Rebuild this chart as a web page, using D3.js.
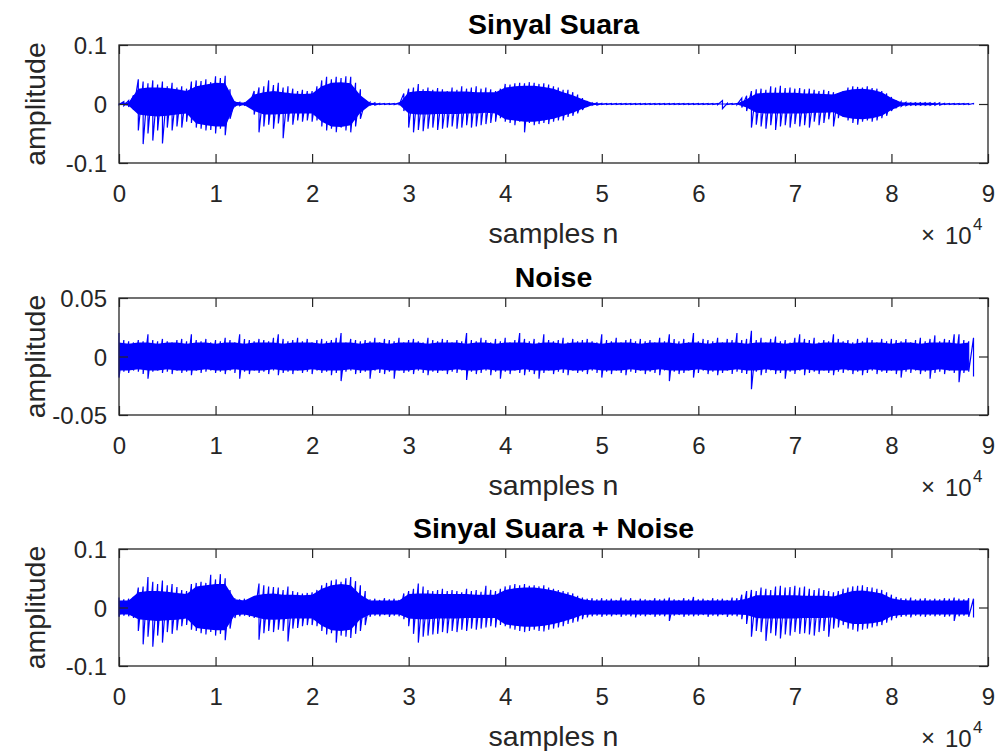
<!DOCTYPE html>
<html><head><meta charset="utf-8">
<script src="https://cdn.jsdelivr.net/npm/d3@7"></script>
<style>
body{margin:0;background:#fff}
svg{display:block}
text{font-family:"Liberation Sans",Arial,Helvetica,sans-serif}
</style>
</head><body>
<svg id="chart" width="996" height="751"></svg>
<script>
// ---------------- DATA (amplitudes in thousandths) ----------------
const xTicks = [0,10000,20000,30000,40000,50000,60000,70000,80000,90000];
const xTickLabels = ["0","1","2","3","4","5","6","7","8","9"];
const titles = ["Sinyal Suara","Noise","Sinyal Suara + Noise"];
const yLabel = "amplitude";
const xLabel = "samples n";
const yTicks1 = [-0.1,0,0.1];
const yTickLabels1 = ["-0.1","0","0.1"];
const yTicks2 = [-0.05,0,0.05];
const yTickLabels2 = ["-0.05","0","0.05"];
const PEAK_STEP = 500;   // samples between peak readings
const BODY_STEP = 1000;  // samples between body-envelope readings

// Sinyal Suara: peak envelope every 500 samples
const speechPeakHi = [
 1,4,6,15,42,38,35,40,33,38,
 30,36,28,30,26,38,40,39,42,37,
 47,44,48,25,5,3,2,2,22,28,
 30,40,32,36,28,30,26,22,24,22,
 22,30,40,46,42,46,44,47,46,36,
 25,5,3,2,1,1,1,1,2,18,
 26,28,34,25,28,24,27,25,22,28,
 24,30,26,28,30,26,28,25,22,26,
 34,33,35,36,35,37,36,34,35,33,
 30,28,24,24,20,16,10,5,2,2,
 1,1,1,1,1,1,1,1,1,1,
 1,1,1,1,1,1,1,1,1,1,
 1,1,1,1,1,6,1,1,1,10,
 14,22,25,26,24,30,28,31,27,28,
 26,27,25,26,24,22,24,22,20,18,
 22,28,30,29,28,30,27,26,22,18,
 12,6,4,3,2,2,2,2,2,2,
 2,1,1,1,1,1,1,1];
const speechPeakLo = [
 -1,-3,-5,-10,-45,-68,-50,-62,-45,-67,
 -40,-45,-38,-40,-30,-32,-40,-42,-45,-44,
 -50,-42,-53,-25,-4,-3,-2,-2,-18,-48,
 -38,-35,-42,-33,-58,-30,-35,-28,-30,-28,
 -30,-28,-38,-45,-42,-48,-40,-45,-48,-38,
 -25,-5,-2,-2,-1,-1,-1,-1,-2,-12,
 -40,-48,-44,-46,-42,-40,-44,-42,-40,-38,
 -42,-40,-36,-40,-38,-36,-34,-32,-30,-24,
 -30,-32,-36,-30,-48,-32,-36,-34,-32,-34,
 -30,-28,-28,-22,-20,-16,-10,-4,-2,-2,
 -1,-1,-1,-1,-1,-1,-1,-1,-1,-1,
 -1,-1,-1,-1,-1,-1,-1,-1,-1,-1,
 -1,-1,-1,-1,-1,-8,-1,-1,-1,-6,
 -12,-40,-35,-38,-42,-36,-44,-38,-36,-40,
 -34,-38,-36,-40,-30,-36,-32,-26,-38,-24,
 -22,-28,-32,-35,-30,-28,-30,-28,-24,-20,
 -12,-6,-4,-3,-2,-2,-2,-2,-2,-2,
 -2,-1,-1,-1,-1,-1,-1,-1];
// Sinyal Suara: dense body envelope every 1000 samples
const speechBodyHi = [
 1,3,26,28,28,27,25,22,30,33,
 36,35,4,2,16,20,22,20,18,17,
 18,30,36,37,35,15,2,1,1,1,
 20,22,22,21,21,21,21,20,20,20,
 28,30,31,31,29,26,20,15,8,2,
 1,1,1,1,1,1,1,1,1,1,
 1,1,1,1,1,8,18,19,19,19,
 19,18,18,17,16,22,25,26,24,20,
 10,3,2,2,2,1,1,1,1];
const speechBodyLo = [
 -1,-3,-18,-20,-21,-20,-18,-16,-33,-36,
 -38,-38,-3,-2,-12,-18,-18,-17,-16,-16,
 -16,-30,-38,-39,-36,-15,-2,-1,-1,-1,
 -16,-18,-18,-17,-17,-17,-16,-16,-15,-16,
 -26,-28,-30,-30,-28,-25,-20,-15,-8,-2,
 -1,-1,-1,-1,-1,-1,-1,-1,-1,-1,
 -1,-1,-1,-1,-1,-6,-15,-16,-16,-16,
 -16,-16,-15,-15,-14,-22,-25,-26,-24,-20,
 -10,-3,-2,-2,-2,-1,-1,-1,-1];

// Noise
const noisePeakHi = [
 20,14,13,12,14,13,19,14,13,15,
 13,12,14,15,13,19,14,13,15,12,
 14,13,16,14,12,19,15,14,13,15,
 14,13,16,19,15,13,14,16,13,15,
 12,14,15,13,14,16,20,12,15,14,
 13,14,13,16,12,15,14,13,16,12,
 14,15,13,12,16,14,13,15,14,12,
 14,13,20,14,13,16,14,12,15,13,
 16,12,14,20,15,13,15,12,19,14,
 13,14,16,12,15,13,14,15,13,12,
 19,14,13,16,12,14,15,13,15,13,
 14,12,16,13,19,15,13,15,12,20,
 13,15,14,13,16,12,15,14,20,14,
 15,22,14,16,12,15,17,13,14,12,
 16,19,15,14,16,12,14,13,19,15,
 13,14,12,15,13,16,14,12,15,13,
 15,14,13,15,12,14,16,13,15,18,
 13,15,14,19,19,14,13,16];
const noisePeakLo = [
 -18,-13,-14,-12,-13,-15,-19,-13,-12,-14,
 -13,-15,-12,-14,-13,-16,-12,-14,-13,-12,
 -14,-13,-15,-12,-14,-19,-13,-15,-12,-14,
 -13,-15,-12,-16,-14,-13,-15,-12,-14,-13,
 -15,-12,-14,-13,-16,-14,-21,-13,-12,-15,
 -14,-13,-19,-12,-14,-15,-13,-19,-12,-14,
 -13,-15,-12,-14,-16,-13,-14,-12,-15,-13,
 -14,-12,-20,-13,-15,-14,-12,-16,-13,-19,
 -13,-15,-12,-14,-16,-13,-15,-19,-14,-12,
 -15,-13,-14,-16,-12,-14,-13,-15,-12,-14,
 -18,-13,-15,-12,-14,-16,-13,-14,-12,-15,
 -13,-14,-16,-12,-21,-13,-15,-14,-12,-18,
 -14,-12,-15,-13,-16,-14,-12,-15,-13,-14,
 -15,-28,-13,-16,-14,-12,-15,-14,-19,-13,
 -15,-12,-16,-14,-13,-15,-12,-14,-16,-13,
 -14,-12,-15,-13,-16,-14,-12,-15,-13,-14,
 -12,-15,-18,-13,-14,-12,-15,-13,-19,-14,
 -13,-15,-12,-14,-22,-14,-13,-17];
const noiseBodyHi = [
 12,11,12,12,11,12,12,11,12,12,
 11,12,12,11,12,12,12,11,12,12,
 12,11,12,12,12,11,12,12,11,12,
 12,12,11,12,12,12,11,12,12,11,
 12,12,12,11,12,12,11,12,12,12,
 11,12,12,12,11,12,12,12,11,12,
 12,11,12,12,12,11,12,12,12,11,
 12,12,11,12,12,12,11,12,12,12,
 11,12,12,11,12,12,12,11,12];
const noiseBodyLo = [
 -12,-12,-11,-12,-12,-11,-12,-12,-12,-11,
 -12,-12,-11,-12,-12,-12,-11,-12,-12,-12,
 -11,-12,-12,-12,-11,-12,-12,-11,-12,-12,
 -12,-11,-12,-12,-12,-11,-12,-12,-11,-12,
 -12,-12,-11,-12,-12,-12,-11,-12,-12,-11,
 -12,-12,-12,-11,-12,-12,-11,-12,-12,-12,
 -11,-12,-12,-12,-11,-12,-12,-11,-12,-12,
 -12,-11,-12,-12,-12,-11,-12,-12,-11,-12,
 -12,-12,-11,-12,-12,-11,-12,-12,-12];

// Sinyal Suara + Noise
const mixPeakHi = [
 17,14,15,18,34,36,52,44,40,46,
 38,40,35,30,28,40,42,44,42,56,
 48,57,50,30,16,14,15,13,18,41,
 38,36,35,34,30,36,28,26,24,25,
 26,30,38,42,46,48,44,50,52,45,
 38,28,14,15,13,16,14,15,13,24,
 28,32,41,36,30,28,30,32,28,30,
 28,26,32,28,30,27,37,30,28,32,
 36,38,40,38,40,37,38,36,38,34,
 32,30,28,26,24,20,17,15,16,14,
 16,14,15,13,17,14,16,13,15,14,
 13,16,14,15,17,14,13,16,14,18,
 14,15,13,16,14,15,13,17,16,22,
 28,30,28,34,32,30,36,37,34,35,
 37,34,36,32,30,33,30,28,26,28,
 32,34,36,37,38,35,34,32,30,26,
 22,18,16,15,17,14,15,16,14,15,
 14,16,15,17,15,14,16,15];
const mixPeakLo = [
 -16,-14,-15,-18,-40,-63,-50,-67,-48,-60,
 -42,-45,-39,-32,-30,-38,-40,-44,-46,-42,
 -48,-45,-56,-36,-18,-15,-14,-16,-18,-55,
 -44,-40,-42,-38,-40,-58,-36,-35,-32,-30,
 -30,-32,-40,-46,-44,-60,-48,-50,-52,-45,
 -40,-30,-16,-14,-15,-13,-16,-14,-15,-20,
 -32,-45,-60,-50,-48,-46,-45,-42,-44,-40,
 -42,-38,-40,-36,-38,-36,-34,-32,-34,-30,
 -32,-36,-38,-40,-42,-40,-38,-40,-41,-38,
 -36,-34,-32,-28,-26,-24,-20,-17,-15,-14,
 -16,-14,-15,-13,-16,-14,-15,-17,-14,-15,
 -13,-16,-14,-15,-23,-14,-13,-16,-14,-15,
 -14,-13,-16,-14,-15,-13,-16,-14,-15,-20,
 -28,-50,-40,-42,-57,-44,-48,-53,-46,-48,
 -42,-45,-44,-46,-48,-42,-40,-50,-36,-34,
 -30,-36,-38,-41,-38,-36,-34,-32,-30,-26,
 -22,-18,-16,-15,-17,-14,-15,-16,-14,-15,
 -14,-16,-15,-23,-15,-14,-16,-17];
const mixBodyHi = [
 12,12,26,28,28,27,25,23,36,38,
 40,40,14,12,20,23,24,22,22,21,
 22,32,38,40,38,22,12,12,12,12,
 23,24,24,23,23,23,23,22,22,22,
 30,33,34,34,32,29,25,20,14,12,
 12,12,12,12,12,12,12,12,12,12,
 12,12,12,12,12,15,21,21,21,21,
 21,20,20,20,19,24,28,29,27,24,
 16,13,12,12,12,12,12,12,12];
const mixBodyLo = [
 -12,-12,-20,-22,-23,-22,-21,-19,-35,-37,
 -39,-39,-13,-12,-16,-20,-21,-20,-19,-19,
 -19,-31,-39,-40,-38,-20,-12,-12,-12,-12,
 -19,-20,-20,-19,-19,-19,-18,-18,-18,-18,
 -29,-31,-33,-33,-31,-28,-24,-19,-13,-12,
 -12,-12,-12,-12,-12,-12,-12,-12,-12,-12,
 -12,-12,-12,-12,-12,-13,-18,-19,-19,-19,
 -19,-18,-18,-18,-17,-24,-28,-28,-27,-24,
 -15,-13,-12,-12,-12,-12,-12,-12,-12];

// ---------------- DRAWING ----------------
const BLUE = "#0000ff";
const AXIS = "#262626";
const svg = d3.select("#chart");

const x = d3.scaleLinear().domain([0, 90000]).range([119, 988]);

const panels = [
  {top:45,  bottom:163, title:titles[0], yTicks:yTicks1, yTickLabels:yTickLabels1,
   peakHi:speechPeakHi, peakLo:speechPeakLo, bodyHi:speechBodyHi, bodyLo:speechBodyLo},
  {top:298, bottom:415, title:titles[1], yTicks:yTicks2, yTickLabels:yTickLabels2,
   peakHi:noisePeakHi, peakLo:noisePeakLo, bodyHi:noiseBodyHi, bodyLo:noiseBodyLo},
  {top:549, bottom:666, title:titles[2], yTicks:yTicks1, yTickLabels:yTickLabels1,
   peakHi:mixPeakHi, peakLo:mixPeakLo, bodyHi:mixBodyHi, bodyLo:mixBodyLo}
];

panels.forEach(p => {
  const y = d3.scaleLinear()
    .domain([p.yTicks[0], p.yTicks[p.yTicks.length-1]])
    .range([p.bottom, p.top]);
  const g = svg.append("g");

  // dense body of the waveform
  const body = p.bodyHi.map((h, j) => ({s: j * BODY_STEP, h: h / 1000, l: p.bodyLo[j] / 1000}));
  g.append("path").datum(body)
    .attr("d", d3.area().x(d => x(d.s)).y0(d => y(d.l)).y1(d => y(d.h)))
    .attr("fill", BLUE);

  // peak excursions: oscillating trace through the peak readings
  const peaks = p.peakHi.map((h, i) => ({s: i * PEAK_STEP, h: h / 1000, l: p.peakLo[i] / 1000}));
  const pts = [];
  peaks.forEach(d => { pts.push([x(d.s), y(d.h)]); pts.push([x(d.s), y(d.l)]); });
  g.append("path")
    .attr("d", d3.line()(pts))
    .attr("fill", "none").attr("stroke", BLUE).attr("stroke-width", 1.2)
    .attr("stroke-linejoin", "miter");

  // axes
  const xb = d3.axisBottom(x).tickValues(xTicks).tickSizeInner(-9).tickSizeOuter(0)
    .tickFormat((d, i) => xTickLabels[i]);
  const gxb = svg.append("g").attr("transform", `translate(0,${p.bottom})`).call(xb)
    .attr("font-size", 24).attr("font-family", null).attr("color", AXIS);
  gxb.select(".domain").remove();
  gxb.selectAll("text").attr("y", 39).attr("dy", null);

  const xt = d3.axisTop(x).tickValues(xTicks).tickSizeInner(-9).tickSizeOuter(0).tickFormat("");
  const gxt = svg.append("g").attr("transform", `translate(0,${p.top})`).call(xt).attr("color", AXIS);
  gxt.select(".domain").remove();

  const yl = d3.axisLeft(y).tickValues(p.yTicks).tickSizeInner(-9).tickSizeOuter(0)
    .tickFormat((d, i) => p.yTickLabels[i]);
  const gyl = svg.append("g").attr("transform", `translate(119,0)`).call(yl)
    .attr("font-size", 24).attr("font-family", null).attr("color", AXIS);
  gyl.select(".domain").remove();
  gyl.selectAll("text").attr("x", -12).attr("dy", "0.36em");

  const yr = d3.axisRight(y).tickValues(p.yTicks).tickSizeInner(-9).tickSizeOuter(0).tickFormat("");
  const gyr = svg.append("g").attr("transform", `translate(988,0)`).call(yr).attr("color", AXIS);
  gyr.select(".domain").remove();

  svg.selectAll(".tick line").attr("stroke-width", 1.2);

  // box
  svg.append("rect")
    .attr("x", 119).attr("y", p.top).attr("width", 988 - 119).attr("height", p.bottom - p.top)
    .attr("fill", "none").attr("stroke", AXIS).attr("stroke-width", 1.3);

  // title
  svg.append("text").attr("x", (119 + 988) / 2).attr("y", p.top - 11)
    .attr("text-anchor", "middle").attr("font-size", 28.5).attr("font-weight", "bold")
    .attr("fill", "#000").text(p.title);

  // x label
  svg.append("text").attr("x", (119 + 988) / 2).attr("y", p.bottom + 80)
    .attr("text-anchor", "middle").attr("font-size", 28.5).attr("fill", AXIS).text(xLabel);

  // exponent ×10^4
  svg.append("text").attr("x", 921).attr("y", p.bottom + 80)
    .attr("font-size", 24).attr("fill", AXIS).text("\u00d7");
  svg.append("text").attr("x", 945).attr("y", p.bottom + 81)
    .attr("font-size", 24).attr("fill", AXIS).text("10");
  svg.append("text").attr("x", 973).attr("y", p.bottom + 67)
    .attr("font-size", 17).attr("fill", AXIS).text("4");

  // y label
  svg.append("text")
    .attr("transform", `translate(45,${(p.top + p.bottom) / 2}) rotate(-90)`)
    .attr("text-anchor", "middle").attr("font-size", 28.5).attr("fill", AXIS).text(yLabel);
});
</script>
</body></html>
